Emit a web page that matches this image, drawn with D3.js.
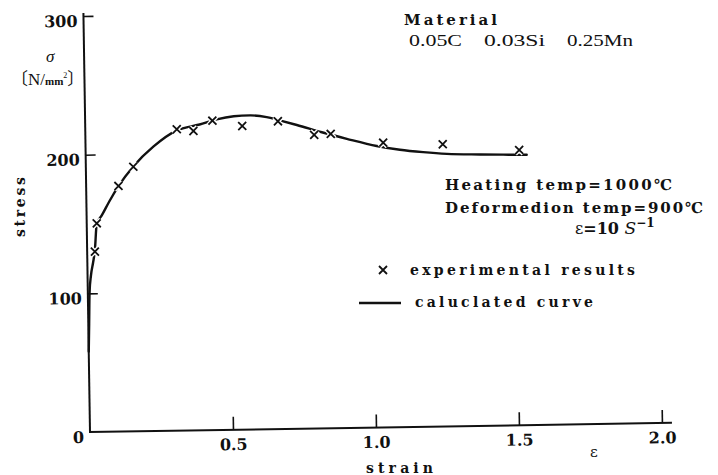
<!DOCTYPE html>
<html>
<head>
<meta charset="utf-8">
<script src="https://cdn.jsdelivr.net/npm/d3@7/dist/d3.min.js"></script>
<style>
  html, body { margin: 0; padding: 0; background: #fff; }
  svg { display: block; }
  text { fill: #111; }
</style>
</head>
<body>
<svg id="chart" width="718" height="475"></svg>
<script>
// ---- data ----
const expStrain = [0.027, 0.035, 0.113, 0.166, 0.32, 0.378, 0.445, 0.549, 0.674, 0.80, 0.858, 1.041, 1.249, 1.516];
const expStress = [130, 150.4, 177.1, 190.8, 217.3, 215.9, 223.1, 218.9, 221.9, 211.7, 212.2, 205.3, 203.5, 198.5];

const calcStrain = [0, 0.003, 0.006, 0.012, 0.02, 0.027, 0.035, 0.053, 0.08, 0.113, 0.166, 0.237, 0.32, 0.40, 0.46, 0.52, 0.577, 0.635, 0.68, 0.74, 0.827, 0.914, 1.018, 1.099, 1.18, 1.263, 1.379, 1.46, 1.542];
const calcStress = [58, 78, 100, 113, 122, 131, 150, 156, 166, 177, 191, 205, 216.5, 220.5, 224, 226, 226.5, 225, 222.5, 219, 213.5, 208.5, 203, 200, 198, 196.5, 195.7, 195.3, 195];

const xTicks = [0.5, 1.0, 1.5, 2.0];
const xTickLabels = ["0.5", "1.0", "1.5", "2.0"];
const yTicks = [0, 100, 200, 300];
const yTickLabels = ["0", "100", "200", "300"];

// ---- drawing ----
const svg = d3.select("#chart");
const ox = 90, oy = 432;
const x = d3.scaleLinear().domain([0, 2]).range([ox, ox + 572]);
const y = d3.scaleLinear().domain([0, 300]).range([oy, 16]);

const numFont = "'DejaVu Serif', 'Liberation Serif', serif";
const txtFont = "'DejaVu Serif', 'Liberation Serif', serif";

// plot group, slightly rotated like the scanned original
const g = svg.append("g").attr("transform", `rotate(-0.9, ${ox}, ${oy})`);

// Y axis
const yAxis = d3.axisLeft(y).tickValues(yTicks)
  .tickFormat((d, i) => yTickLabels[i]).tickSizeInner(-10).tickSizeOuter(0).tickPadding(6);
const gy = g.append("g").attr("transform", `translate(${ox},0)`).call(yAxis);
gy.select(".domain").remove();
gy.selectAll(".tick line").attr("stroke", "#111").attr("stroke-width", 1.6);
gy.selectAll(".tick text")
  .attr("font-family", numFont).attr("font-weight", "bold").attr("font-size", 16)
  .attr("fill", "#111").attr("dy", "0.32em").attr("y", 5);
gy.selectAll(".tick").filter(d => d === 0).select("line").remove();

// X axis
const xAxis = d3.axisBottom(x).tickValues(xTicks)
  .tickFormat((d, i) => xTickLabels[i]).tickSizeInner(-13).tickSizeOuter(0).tickPadding(9);
const gx = g.append("g").attr("transform", `translate(0,${oy})`).call(xAxis);
gx.select(".domain").remove();
gx.selectAll(".tick line").attr("stroke", "#111").attr("stroke-width", 1.6);
gx.selectAll(".tick text")
  .attr("font-family", numFont).attr("font-weight", "bold").attr("font-size", 16)
  .attr("fill", "#111");

// axis lines
g.append("line").attr("x1", ox).attr("y1", oy + 1).attr("x2", ox).attr("y2", y(300) - 3)
  .attr("stroke", "#111").attr("stroke-width", 2);
g.append("line").attr("x1", ox - 1).attr("y1", oy).attr("x2", x(2.0) + 10).attr("y2", oy)
  .attr("stroke", "#111").attr("stroke-width", 2);

// calculated curve
const curveData = calcStrain.map((s, i) => [s, calcStress[i]]);
const line = d3.line().x(d => x(d[0])).y(d => y(d[1])).curve(d3.curveMonotoneX);
g.append("path").datum(curveData).attr("d", line)
  .attr("fill", "none").attr("stroke", "#111").attr("stroke-width", 2.4)
  .attr("stroke-linejoin", "round").attr("stroke-linecap", "round");

// experimental crosses
const expData = expStrain.map((s, i) => [s, expStress[i]]);
const crossPath = "M-4,-4L4,4M4,-4L-4,4";
const marks = g.append("g").selectAll("g.cross").data(expData).join("g")
  .attr("class", "cross")
  .attr("transform", d => `translate(${x(d[0])},${y(d[1])})`);
marks.append("path").attr("d", crossPath).attr("stroke", "#fff").attr("stroke-width", 4.5).attr("fill", "none");
marks.append("path").attr("d", crossPath).attr("stroke", "#111").attr("stroke-width", 1.8).attr("fill", "none");

// ---- annotations ----
function txt(str, xPos, yPos, size, opts = {}) {
  const t = svg.append("text").attr("x", xPos).attr("y", yPos)
    .attr("font-family", opts.family || txtFont)
    .attr("font-size", size)
    .attr("font-weight", opts.weight || "bold")
    .attr("fill", "#111")
    .text(str);
  if (opts.len) t.attr("textLength", opts.len).attr("lengthAdjust", opts.adjust || "spacing");
  if (opts.anchor) t.attr("text-anchor", opts.anchor);
  return t;
}

// axis titles
txt("strain", 366, 473, 14, { len: 67 });
txt("ε", 590, 457, 15, { weight: "normal" });
svg.append("text")
  .attr("transform", "translate(25,237) rotate(-90)")
  .attr("font-family", txtFont).attr("font-size", 14).attr("font-weight", "bold")
  .attr("textLength", 60).attr("lengthAdjust", "spacing").attr("fill", "#111")
  .text("stress");

// unit label
txt("σ", 46, 62, 17, { weight: "normal", family: "'Liberation Serif', serif" }).attr("font-style", "italic");
const unit = svg.append("text").attr("x", 11).attr("y", 85)
  .attr("font-family", "'Liberation Serif', serif").attr("font-size", 17).attr("fill", "#111");
unit.append("tspan").attr("font-family", "'Noto Sans CJK JP', serif").text("〔");
unit.append("tspan").text("N/");
unit.append("tspan").attr("font-size", 11).attr("font-weight", "bold").text("mm");
unit.append("tspan").attr("font-size", 8).attr("dy", -7).text("2");
unit.append("tspan").attr("dy", 7).attr("font-family", "'Noto Sans CJK JP', serif").text("〕");

// material info
txt("Material", 404, 25, 15, { len: 93 });
txt("0.05C", 409, 46, 16, { weight: "normal", family: "'Liberation Serif', serif", len: 53, adjust: "spacingAndGlyphs" });
txt("0.03Si", 484, 46, 16, { weight: "normal", family: "'Liberation Serif', serif", len: 61, adjust: "spacingAndGlyphs" });
txt("0.25Mn", 567, 46, 16, { weight: "normal", family: "'Liberation Serif', serif", len: 66, adjust: "spacingAndGlyphs" });

// conditions
txt("Heating temp=1000℃", 445, 190, 15, { len: 227 });
txt("Deformedion temp=900℃", 445, 213, 15, { len: 258 });
const eps = svg.append("text").attr("x", 575).attr("y", 234)
  .attr("font-family", txtFont).attr("font-size", 16).attr("font-weight", "bold").attr("fill", "#111");
eps.append("tspan").attr("font-weight", "normal").text("ε");
eps.append("tspan").text("=10 ");
eps.append("tspan").attr("font-style", "italic").attr("font-weight", "normal").attr("font-size", 17).text("S");
eps.append("tspan").attr("font-size", 12).attr("dy", -7).text("−1");

// legend
svg.append("path").attr("d", crossPath).attr("transform", "translate(383,270)")
  .attr("stroke", "#111").attr("stroke-width", 1.8).attr("fill", "none");
txt("experimental results", 410, 275, 14, { len: 225 });
svg.append("line").attr("x1", 359).attr("x2", 401).attr("y1", 303).attr("y2", 303)
  .attr("stroke", "#111").attr("stroke-width", 2.4);
txt("caluclated curve", 415, 307, 14, { len: 178 });
</script>
</body>
</html>
